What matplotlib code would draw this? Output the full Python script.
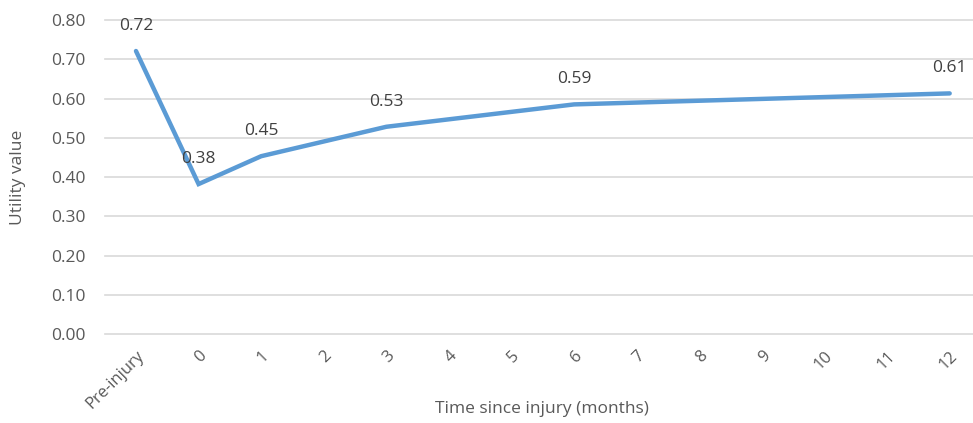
import matplotlib
matplotlib.use("Agg")
import matplotlib.pyplot as plt
import numpy as np

categories = ["Pre-injury", "0", "1", "2", "3", "4", "5", "6", "7", "8", "9", "10", "11", "12"]
utility = [0.721, 0.382, 0.453, None, 0.528, None, None, 0.585, None, None, None, None, None, 0.613]
labels = ["0.72", "0.38", "0.45", None, "0.53", None, None, "0.59", None, None, None, None, None, "0.61"]
yticks = [0.0, 0.1, 0.2, 0.3, 0.4, 0.5, 0.6, 0.7, 0.8]

plt.rcParams['font.family'] = ['Open Sans', 'DejaVu Sans']
txt = '#595959'

fig = plt.figure(figsize=(9.73, 4.23), dpi=100)
ax = fig.add_axes([0.1076, 0.2104, 0.9006, 0.7423])

xs = [i for i, v in enumerate(utility) if v is not None]
ys = [v for v in utility if v is not None]
ax.plot(xs, ys, color='#5B9BD5', lw=3.2, solid_capstyle='round', solid_joinstyle='miter', zorder=3)

for i, (v, lab) in enumerate(zip(utility, labels)):
    if v is not None and lab:
        ax.annotate(lab, (i, v), xytext=(0, 18), textcoords='offset points',
                    ha='center', va='center', fontsize=12.5, color='#404040', zorder=4)

ax.set_xlim(-0.5, len(categories) - 0.5)
ax.set_ylim(0, 0.8)
ax.set_yticks(yticks)
ax.set_yticklabels([f"{t:.2f}" for t in yticks], fontsize=12.5, color=txt)
ax.set_xticks(range(len(categories)))
ax.set_xticklabels(categories, rotation=45, ha='right', rotation_mode='anchor', fontsize=12, color=txt)
ax.tick_params(axis='both', length=0)
ax.tick_params(axis='x', pad=10)
ax.tick_params(axis='y', pad=14)
for t in yticks:
    ax.axhline(t, color='#D9D9D9', lw=1.2, zorder=1, clip_on=False)
for s in ax.spines.values():
    s.set_visible(False)
fig.text(18 / 973, 1 - 177 / 423, "Utility value", rotation=90, ha='center', va='center',
         fontsize=12.5, color=txt)
fig.text(542 / 973, 1 - 409 / 423, "Time since injury (months)", ha='center', va='center',
         fontsize=12.5, color=txt)

fig.savefig("out.png", dpi=100)
